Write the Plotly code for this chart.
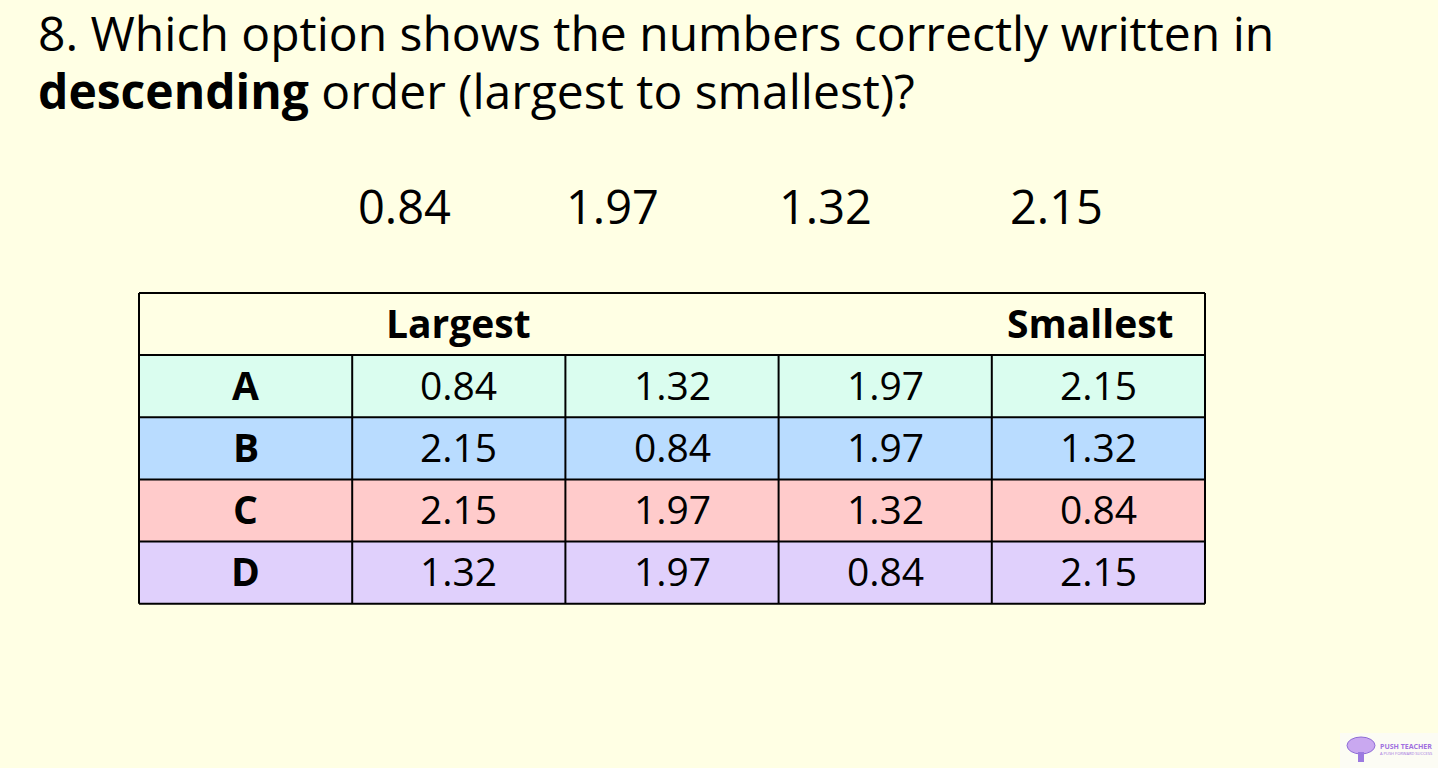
import plotly.graph_objects as go

# ---------------- data ----------------
question_number = "8."
question_line1 = "Which option shows the numbers correctly written in"
question_bold = "descending"
question_rest = "order (largest to smallest)?"

given_numbers = ["0.84", "1.97", "1.32", "2.15"]

header_labels = ["", "Largest", "", "", "Smallest"]
option_labels = ["A", "B", "C", "D"]
option_a = ["0.84", "1.32", "1.97", "2.15"]
option_b = ["2.15", "0.84", "1.97", "1.32"]
option_c = ["2.15", "1.97", "1.32", "0.84"]
option_d = ["1.32", "1.97", "0.84", "2.15"]
option_values = [option_a, option_b, option_c, option_d]

# ---------------- style ----------------
W, H = 1438, 768
BG = "#FFFFE4"
row_colors = ["#DAFDEF", "#B9DCFF", "#FFCBCB", "#E0D0FC"]
FONT = "Open Sans"

tbl_x0, tbl_x1 = 139, 1205
tbl_y0 = 293
head_h = 62
row_h = 62.2
ncols = 5
col_w = (tbl_x1 - tbl_x0) / ncols
col_edges = [tbl_x0 + i * col_w for i in range(ncols + 1)]
row_edges = [tbl_y0, tbl_y0 + head_h] + [tbl_y0 + head_h + (i + 1) * row_h for i in range(len(option_labels))]
TXT_DY = -2
given_x = [404, 612, 825, 1056]
given_y = 206

fig = go.Figure()
# invisible trace so axes exist
fig.add_trace(go.Scatter(x=[0, W], y=[0, H], mode="markers", marker=dict(opacity=0), hoverinfo="skip", showlegend=False))

shapes = []
annotations = []

# header row background
shapes.append(dict(type="rect", xref="x", yref="y", x0=tbl_x0, x1=tbl_x1, y0=row_edges[0], y1=row_edges[1],
                   fillcolor=BG, line=dict(width=0), layer="below"))
# option rows
for r, lab in enumerate(option_labels):
    y0, y1 = row_edges[r + 1], row_edges[r + 2]
    shapes.append(dict(type="rect", xref="x", yref="y", x0=tbl_x0, x1=tbl_x1, y0=y0, y1=y1,
                       fillcolor=row_colors[r], line=dict(width=0), layer="below"))
    yc = (y0 + y1) / 2 + TXT_DY
    annotations.append(dict(x=(col_edges[0] + col_edges[1]) / 2, y=yc, xref="x", yref="y", text=f"<b>{lab}</b>",
                            showarrow=False, font=dict(family=FONT, size=39, color="#000"), xanchor="center", yanchor="middle"))
    for c, v in enumerate(option_values[r]):
        annotations.append(dict(x=(col_edges[c + 1] + col_edges[c + 2]) / 2, y=yc, xref="x", yref="y", text=v,
                                showarrow=False, font=dict(family=FONT, size=39, color="#000"), xanchor="center", yanchor="middle"))

# horizontal lines
for ye in row_edges:
    shapes.append(dict(type="line", xref="x", yref="y", x0=tbl_x0, x1=tbl_x1, y0=ye, y1=ye, line=dict(color="#000", width=2)))
# vertical lines (outer full height, inner only in body)
for i, xe in enumerate(col_edges):
    ys = row_edges[0] if i in (0, ncols) else row_edges[1]
    shapes.append(dict(type="line", xref="x", yref="y", x0=xe, x1=xe, y0=ys, y1=row_edges[-1], line=dict(color="#000", width=2)))

# header labels
hy = (row_edges[0] + row_edges[1]) / 2 + TXT_DY
for c, lab in enumerate(header_labels):
    if not lab:
        continue
    xc = (col_edges[c] + col_edges[c + 1]) / 2
    if c == ncols - 1:
        xc -= 8
    annotations.append(dict(x=xc, y=hy, xref="x", yref="y", text=f"<b>{lab}</b>", showarrow=False,
                            font=dict(family=FONT, size=39, color="#000"), xanchor="center", yanchor="middle"))

# given numbers
for gx, n in zip(given_x, given_numbers):
    annotations.append(dict(x=gx, y=given_y, xref="x", yref="y", text=n, showarrow=False,
                            font=dict(family=FONT, size=47, color="#000"), xanchor="center", yanchor="middle"))

# question (two lines)
annotations.append(dict(x=36, y=32, xref="x", yref="y", xanchor="left", yanchor="middle", align="left", showarrow=False,
                        text=f"{question_number} {question_line1}",
                        font=dict(family=FONT, size=48, color="#000")))
annotations.append(dict(x=36, y=90, xref="x", yref="y", xanchor="left", yanchor="middle", align="left", showarrow=False,
                        text=f"<b>{question_bold}</b> {question_rest}",
                        font=dict(family=FONT, size=48, color="#000")))

# logo
shapes.append(dict(type="rect", xref="x", yref="y", x0=1340, x1=1438, y0=733, y1=768, fillcolor="#FCFCF4", line=dict(width=0)))
shapes.append(dict(type="circle", xref="x", yref="y", x0=1347, x1=1375, y0=737, y1=754, fillcolor="#C9A8F0", line=dict(color="#8E6CD6", width=1)))
shapes.append(dict(type="rect", xref="x", yref="y", x0=1358, x1=1364, y0=752, y1=762, fillcolor="#9C7AE0", line=dict(width=0)))
annotations.append(dict(x=1378, y=746, xref="x", yref="y", xanchor="left", yanchor="middle", showarrow=False,
                        text="<b>PUSH TEACHER</b>", font=dict(family=FONT, size=7, color="#A070E0")))
annotations.append(dict(x=1378, y=753, xref="x", yref="y", xanchor="left", yanchor="middle", showarrow=False,
                        text="A PUSH FORWARD SUCCESS", font=dict(family=FONT, size=4, color="#A070E0")))

fig.update_layout(
    width=W, height=H, margin=dict(l=0, r=0, t=0, b=0),
    paper_bgcolor=BG, plot_bgcolor=BG,
    xaxis=dict(range=[0, W], visible=False, fixedrange=True),
    yaxis=dict(range=[H, 0], visible=False, fixedrange=True),
    shapes=shapes, annotations=annotations, showlegend=False,
)

fig.write_html("out.html", config={"displayModeBar": False},
               post_script="document.body.style.margin='0';document.body.style.overflow='hidden';")
